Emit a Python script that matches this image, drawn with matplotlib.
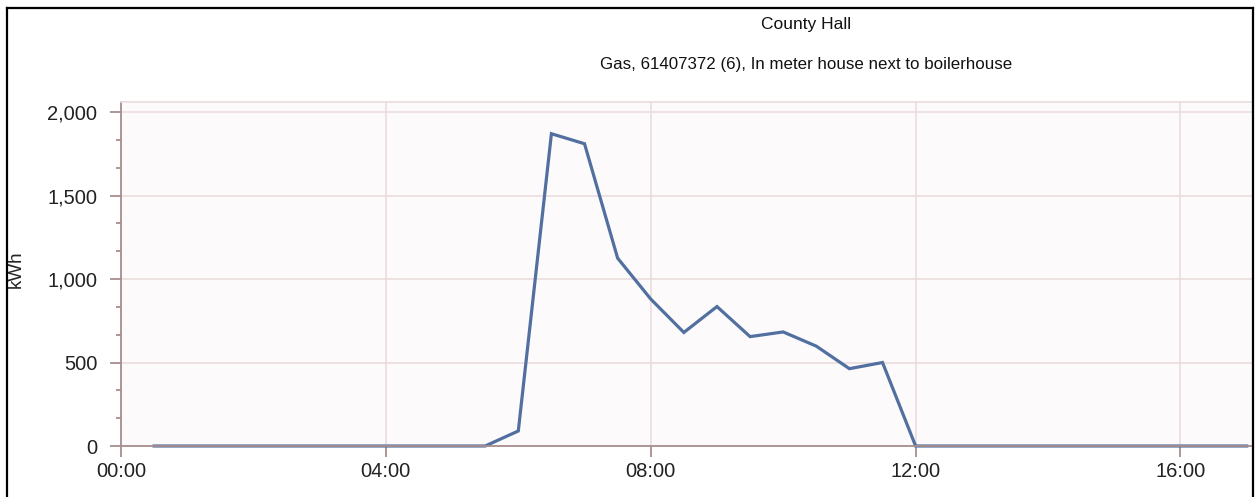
import matplotlib
matplotlib.use("Agg")
import matplotlib.pyplot as plt
from matplotlib.lines import Line2D
from matplotlib.ticker import FuncFormatter, MultipleLocator

# half-hourly gas readings, County Hall
times = ["00:30", "01:00", "01:30", "02:00", "02:30", "03:00", "03:30", "04:00",
         "04:30", "05:00", "05:30", "06:00", "06:30", "07:00", "07:30", "08:00",
         "08:30", "09:00", "09:30", "10:00", "10:30", "11:00", "11:30", "12:00",
         "12:30", "13:00", "13:30", "14:00", "14:30", "15:00", "15:30", "16:00",
         "16:30", "17:00"]
kwh = [0, 0, 0, 0, 0, 0, 0, 0,
       0, 0, 0, 90, 1870, 1810, 1125, 880,
       680, 835, 655, 683, 598, 463, 500, 0,
       0, 0, 0, 0, 0, 0, 0, 0,
       0, 0]
title = "County Hall"
subtitle = "Gas, 61407372 (6), In meter house next to boilerhouse"

hours = [int(t[:2]) + int(t[3:]) / 60 for t in times]

plt.rcParams['font.family'] = ['Liberation Sans', 'DejaVu Sans']

W, H = 1256, 497
fig = plt.figure(figsize=(W / 100, H / 100), dpi=100)
fig.patch.set_facecolor('white')

ax = fig.add_axes([121 / W, 1 - 446 / H, (1252 - 121) / W, (446 - 102) / H])
ax.set_facecolor('#fcfafb')

ax.plot(hours, kwh, color='#5170a0', linewidth=2.3, solid_joinstyle='miter', clip_on=False)

ax.set_xlim(0, 17.08)
ax.set_ylim(0, 2060)
ax.xaxis.set_major_locator(MultipleLocator(4))
ax.yaxis.set_major_locator(MultipleLocator(500))
ax.yaxis.set_minor_locator(MultipleLocator(500 / 3))
ax.xaxis.set_major_formatter(FuncFormatter(lambda v, p: "%02d:%02d" % (int(v), round((v % 1) * 60))))
ax.yaxis.set_major_formatter(FuncFormatter(lambda v, p: "{:,.0f}".format(v)))

grid_c = '#eadcdc'
axis_c = '#a88e8e'
ax.grid(True, which='major', color=grid_c, linewidth=1.2)
ax.set_axisbelow(True)
for s in ['left', 'bottom']:
    ax.spines[s].set_color(axis_c)
    ax.spines[s].set_linewidth(1.3)
ax.spines['top'].set_color(grid_c)
ax.spines['top'].set_linewidth(1.2)
ax.spines['right'].set_visible(False)

ax.tick_params(axis='both', which='major', length=8, width=1.3, color=axis_c,
               labelsize=14.5, labelcolor='#222222')
ax.tick_params(axis='y', which='major', pad=9)
ax.tick_params(axis='x', which='major', pad=3.5)
ax.tick_params(axis='y', which='minor', length=3.5, width=1.3, color=axis_c)

fig.text(16 / W, 1 - 269 / H, "kWh", rotation=90, ha='center', va='center',
         fontsize=13.5, color='#222222')
fig.text(806 / W, 1 - 24 / H, title, ha='center', va='center', fontsize=12.5, color='#111111')
fig.text(806 / W, 1 - 65 / H, subtitle, ha='center', va='center', fontsize=12.2, color='#111111')

# black frame of the chart panel (bottom edge lies outside the crop)
frame = dict(color='black', linewidth=1.6, transform=fig.transFigure)
fig.add_artist(Line2D([7 / W, 7 / W], [0, 1 - 8 / H], **frame))
fig.add_artist(Line2D([7 / W, 1253 / W], [1 - 8 / H, 1 - 8 / H], **frame))
fig.add_artist(Line2D([1253 / W, 1253 / W], [0, 1 - 8 / H], **frame))

fig.savefig("out.png", dpi=100)
